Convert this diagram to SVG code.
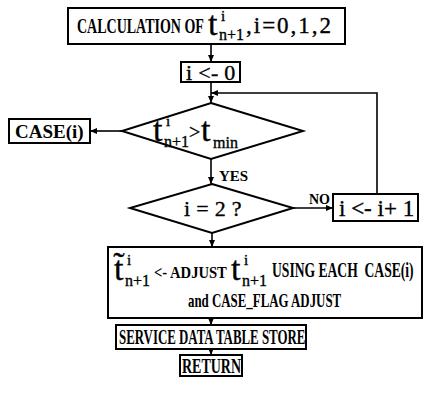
<svg xmlns="http://www.w3.org/2000/svg" width="424" height="405" viewBox="0 0 424 405">
<defs>
<marker id="arr" markerUnits="userSpaceOnUse" markerWidth="8" markerHeight="8" refX="7" refY="4" orient="auto">
<path d="M0,1 L7,4 L0,7 Z" fill="#000"/>
</marker>
<style>
.box{fill:#fff;stroke:#000;stroke-width:2}
.dia{fill:none;stroke:#000;stroke-width:2}
.ln{fill:none;stroke:#000;stroke-width:1.6}
text{font-family:'Liberation Serif','Times New Roman',serif;fill:#000}
.b{font-weight:bold}
.r{stroke:#000;stroke-width:0.35}
.m{font-size:34px}
.sp{font-size:15px}
.sb{font-size:16px}
</style>
</defs>
<rect width="424" height="405" fill="#fff"/>
<g id="connectors">
<line class="ln" x1="211" y1="44" x2="211" y2="62" marker-end="url(#arr)"/>
<line class="ln" x1="211" y1="82" x2="211" y2="103" marker-end="url(#arr)"/>
<polyline class="ln" points="377,194 377,93 211,93" marker-end="url(#arr)"/>
<line class="ln" x1="122" y1="131" x2="90" y2="131" marker-end="url(#arr)"/>
<line class="ln" x1="211" y1="159" x2="211" y2="184" marker-end="url(#arr)"/>
<line class="ln" x1="293" y1="208" x2="333" y2="208" marker-end="url(#arr)"/>
<line class="ln" x1="212" y1="233" x2="212" y2="247" marker-end="url(#arr)"/>
<line class="ln" x1="211" y1="318" x2="211" y2="325" marker-end="url(#arr)"/>
<line class="ln" x1="211" y1="349" x2="211" y2="355" marker-end="url(#arr)"/>
<text class="b" x="219" y="181" font-size="15">YES</text>
<text class="b" x="309" y="204" font-size="14">NO</text>
</g>
<g id="calc">
<rect class="box" x="68" y="8" width="277" height="36"/>
<text class="b" transform="translate(77,33) scale(0.70,1)" font-size="20">CALCULATION OF</text>
<text class="r"><tspan class="m" x="208" y="35">t</tspan><tspan class="sp" x="221" y="21">i</tspan><tspan class="sb" x="219" y="40">n+1</tspan><tspan x="246" y="33" font-size="23" letter-spacing="2">,i=0,1,2</tspan></text>
</g>
<g id="init">
<rect class="box" x="181" y="62" width="59" height="20"/>
<text class="r" x="186" y="80" font-size="22" letter-spacing="0.3">i &lt;- 0</text>
</g>
<g id="cond1">
<polygon class="dia" points="211,103 303,131 211,159 122,131"/>
<text class="r"><tspan class="m" x="153" y="141">t</tspan><tspan class="sp" x="166" y="126">i</tspan><tspan class="sb" x="164" y="147">n+1</tspan><tspan x="189" y="139" font-size="20">&gt;</tspan><tspan class="m" x="201" y="141">t</tspan><tspan class="sb" x="213" y="148">min</tspan></text>
</g>
<g id="case">
<rect class="box" x="9" y="119" width="81" height="24"/>
<text class="b" x="15" y="138" font-size="19">CASE(i)</text>
</g>
<g id="cond2">
<polygon class="dia" points="212,184 293,208 212,233 130,208"/>
<text class="r" x="184" y="216" font-size="22" letter-spacing="0.3">i = 2 ?</text>
</g>
<g id="incr">
<rect class="box" x="333" y="194" width="85" height="27"/>
<text class="r" x="339" y="216" font-size="23">i &lt;- i+ 1</text>
</g>
<g id="adjust">
<rect class="box" x="108" y="247" width="314" height="71"/>
<text class="r"><tspan class="m" x="114" y="280">t̃</tspan><tspan class="sp" x="127" y="265">i</tspan><tspan class="sb" x="125" y="286">n+1</tspan></text>
<text class="b" transform="translate(154,278) scale(0.86,1)" font-size="17">&lt;- ADJUST</text>
<text class="r"><tspan class="m" x="231" y="280">t</tspan><tspan class="sp" x="244" y="265">i</tspan><tspan class="sb" x="242" y="286">n+1</tspan></text>
<text class="b" transform="translate(272,277) scale(0.68,1)" font-size="20" xml:space="preserve">USING EACH  CASE(i)</text>
<text class="b" transform="translate(188,307) scale(0.716,1)" font-size="18">and CASE_FLAG ADJUST</text>
</g>
<g id="store">
<rect class="box" x="116" y="325" width="190" height="24"/>
<text class="b" transform="translate(119,344) scale(0.645,1)" font-size="20">SERVICE DATA TABLE STORE</text>
</g>
<g id="return">
<rect class="box" x="180" y="355" width="62" height="21"/>
<text class="b" transform="translate(182,373) scale(0.70,1)" font-size="20">RETURN</text>
</g>
</svg>
